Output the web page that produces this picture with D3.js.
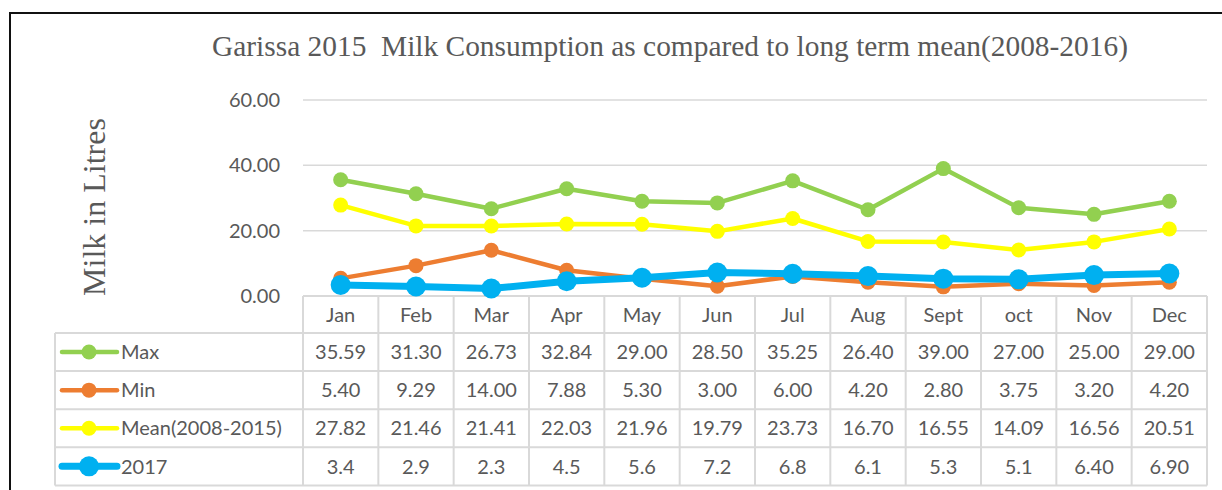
<!DOCTYPE html>
<html>
<head>
<meta charset="utf-8">
<script src="https://cdn.jsdelivr.net/npm/d3@7/dist/d3.min.js"></script>
<style>
  html, body { margin: 0; padding: 0; background: #fff; }
  svg { display: block; }
</style>
</head>
<body>
<svg id="chart" width="1222" height="490"></svg>
<script>
// Monthly milk consumption, Garissa
const months = ["Jan", "Feb", "Mar", "Apr", "May", "Jun", "Jul", "Aug", "Sept", "oct", "Nov", "Dec"];
const maxValues  = [35.59, 31.30, 26.73, 32.84, 29.00, 28.50, 35.25, 26.40, 39.00, 27.00, 25.00, 29.00];
const minValues  = [5.40, 9.29, 14.00, 7.88, 5.30, 3.00, 6.00, 4.20, 2.80, 3.75, 3.20, 4.20];
const meanValues = [27.82, 21.46, 21.41, 22.03, 21.96, 19.79, 23.73, 16.70, 16.55, 14.09, 16.56, 20.51];
const y2017      = [3.4, 2.9, 2.3, 4.5, 5.6, 7.2, 6.8, 6.1, 5.3, 5.1, 6.40, 6.90];
// Labels shown in the data table
const maxLabels  = ["35.59", "31.30", "26.73", "32.84", "29.00", "28.50", "35.25", "26.40", "39.00", "27.00", "25.00", "29.00"];
const minLabels  = ["5.40", "9.29", "14.00", "7.88", "5.30", "3.00", "6.00", "4.20", "2.80", "3.75", "3.20", "4.20"];
const meanLabels = ["27.82", "21.46", "21.41", "22.03", "21.96", "19.79", "23.73", "16.70", "16.55", "14.09", "16.56", "20.51"];
const labels2017 = ["3.4", "2.9", "2.3", "4.5", "5.6", "7.2", "6.8", "6.1", "5.3", "5.1", "6.40", "6.90"];
const yTicks = [0, 20, 40, 60];

const series = [
  { name: "Max", values: maxValues, labels: maxLabels, color: "#92D050", width: 4.5, r: 7.5 },
  { name: "Min", values: minValues, labels: minLabels, color: "#ED7D31", width: 4.5, r: 7.5 },
  { name: "Mean(2008-2015)", values: meanValues, labels: meanLabels, color: "#FFFF00", width: 4.5, r: 7.5 },
  { name: "2017", values: y2017, labels: labels2017, color: "#00B0F0", width: 7, r: 10 }
];

const svg = d3.select("#chart");
const textColor = "#595959";
const gridColor = "#D9D9D9";
const bodyFont = "Lato, 'Open Sans', sans-serif";
const serifFont = "'Liberation Serif', 'DejaVu Serif', serif";

const plotLeft = 303, plotRight = 1207;
const y = d3.scaleLinear().domain([0, 60]).range([296, 100]);
const x = d3.scaleBand().domain(months).range([plotLeft, plotRight]);
const cx = m => x(m) + x.bandwidth() / 2;

// outer frame (left and top edges)
svg.append("path")
  .attr("d", "M10,490 L10,13 L1222,13")
  .attr("fill", "none").attr("stroke", "#111").attr("stroke-width", 2);

// title
svg.append("text")
  .attr("x", 670).attr("y", 56)
  .attr("text-anchor", "middle")
  .attr("font-family", serifFont).attr("font-size", 29.4)
  .attr("fill", textColor)
  .attr("xml:space", "preserve")
  .text("Garissa 2015  Milk Consumption as compared to long term mean(2008-2016)");

// y axis title
svg.append("text")
  .attr("transform", "translate(105,207) rotate(-90)")
  .attr("text-anchor", "middle")
  .attr("font-family", serifFont).attr("font-size", 32)
  .attr("fill", textColor)
  .text("Milk in Litres");

// gridlines
svg.append("g").selectAll("line")
  .data(yTicks.filter(t => t > 0))
  .join("line")
  .attr("x1", plotLeft).attr("x2", plotRight)
  .attr("y1", d => y(d)).attr("y2", d => y(d))
  .attr("stroke", gridColor).attr("stroke-width", 1.5);

// y axis labels
const yAxis = svg.append("g")
  .attr("transform", `translate(${plotLeft},0)`)
  .call(d3.axisLeft(y).tickValues(yTicks).tickFormat(d3.format(".2f")).tickSize(0).tickPadding(23));
yAxis.select(".domain").remove();
yAxis.selectAll("text")
  .attr("font-family", bodyFont).attr("font-size", 20).attr("fill", textColor);

// data table
const rowTop = 333, rowH = 38.1, headTop = 296;
const tableLeft = 55;
const table = svg.append("g");
const tableLines = [];
// header row
tableLines.push([plotLeft, headTop, plotRight, headTop]);
tableLines.push([tableLeft, rowTop, plotRight, rowTop]);
series.forEach((s, i) => tableLines.push([tableLeft, rowTop + (i + 1) * rowH, plotRight, rowTop + (i + 1) * rowH]));
months.forEach(m => tableLines.push([x(m), headTop, x(m), rowTop + series.length * rowH]));
tableLines.push([plotRight, headTop, plotRight, rowTop + series.length * rowH]);
tableLines.push([tableLeft, rowTop, tableLeft, rowTop + series.length * rowH]);
table.selectAll("line").data(tableLines).join("line")
  .attr("x1", d => d[0]).attr("y1", d => d[1]).attr("x2", d => d[2]).attr("y2", d => d[3])
  .attr("stroke", gridColor).attr("stroke-width", 2);

// month names
table.append("g").selectAll("text").data(months).join("text")
  .attr("x", d => cx(d)).attr("y", (headTop + rowTop) / 2)
  .attr("dy", "0.36em").attr("text-anchor", "middle")
  .attr("font-family", bodyFont).attr("font-size", 20).attr("fill", textColor)
  .text(d => d);

// table rows with legend keys
series.forEach((s, i) => {
  const rowMid = rowTop + i * rowH + rowH / 2;
  const g = table.append("g");
  g.append("line")
    .attr("x1", 62).attr("x2", 117).attr("y1", rowMid).attr("y2", rowMid)
    .attr("stroke", s.color).attr("stroke-width", s.width).attr("stroke-linecap", "round");
  g.append("circle").attr("cx", 89).attr("cy", rowMid).attr("r", s.r).attr("fill", s.color);
  g.append("text")
    .attr("x", 121).attr("y", rowMid).attr("dy", "0.36em")
    .attr("font-family", bodyFont).attr("font-size", 20).attr("fill", textColor)
    .text(s.name);
  g.selectAll("text.val").data(s.labels).join("text")
    .attr("class", "val")
    .attr("x", (d, j) => cx(months[j])).attr("y", rowMid).attr("dy", "0.36em")
    .attr("text-anchor", "middle")
    .attr("font-family", bodyFont).attr("font-size", 20).attr("fill", textColor)
    .text(d => d);
});

// lines and markers
const line = d3.line().x((d, j) => cx(months[j])).y(d => y(d));
series.forEach(s => {
  const g = svg.append("g");
  g.append("path").datum(s.values)
    .attr("d", line).attr("fill", "none")
    .attr("stroke", s.color).attr("stroke-width", s.width)
    .attr("stroke-linejoin", "round");
  g.selectAll("circle").data(s.values).join("circle")
    .attr("cx", (d, j) => cx(months[j])).attr("cy", d => y(d))
    .attr("r", s.r).attr("fill", s.color);
});
</script>
</body>
</html>
